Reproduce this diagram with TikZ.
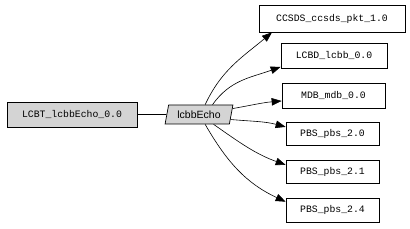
\documentclass[tikz,border=0pt]{standalone}
\usepackage{fontspec}
\newfontfamily\pktmono{Liberation Mono}
\newfontfamily\pktsans{Liberation Sans}
\usepackage{tikz}
\usetikzlibrary{calc,shapes.geometric,arrows.meta}

\begin{document}
\begin{tikzpicture}[x=1pt, y=1pt,
		pktbox/.style={draw=black, fill=white, line width=0.7pt, inner sep=0pt,
			minimum height=25pt, font=\pktmono\fontsize{9.8}{12}\selectfont},
		topbox/.style={pktbox, fill=black!17},
		procbox/.style={trapezium, trapezium left angle=72, trapezium right angle=108,
			trapezium stretches=true, draw=black, fill=black!17, line width=0.7pt,
			inner sep=0pt, minimum width=68pt, minimum height=19pt,
			font=\pktsans\fontsize{10.5}{12}\selectfont},
		dep/.style={line width=0.6pt, -{Triangle[length=10pt,width=7.5pt]}}]
	\useasboundingbox (0, 0) rectangle (410, 228);

	\node[topbox, minimum width=130pt] (lcbt) at (72, 113.5) {LCBT\_lcbbEcho\_0.0};
	\node[procbox] (echo) at (199, 113.5) {lcbbEcho};

	\node[pktbox, minimum width=146pt, minimum height=27pt] (ccsds) at (332, 209.5) {CCSDS\_ccsds\_pkt\_1.0};
	\node[pktbox, minimum width=106pt] (lcbd) at (334, 172.5) {LCBD\_lcbb\_0.0};
	\node[pktbox, minimum width=103pt] (mdb) at (333.5, 132.5) {MDB\_mdb\_0.0};
	\node[pktbox, minimum width=93pt, minimum height=23pt] (pbs20) at (332.5, 94.5) {PBS\_pbs\_2.0};
	\node[pktbox, minimum width=93pt, minimum height=23pt] (pbs21) at (332.5, 56.5) {PBS\_pbs\_2.1};
	\node[pktbox, minimum width=93pt, minimum height=24pt] (pbs24) at (332.5, 18) {PBS\_pbs\_2.4};

	\draw[line width=0.6pt] (lcbt) -- (echo);

	\draw[dep] (echo.58) to[out=65, in=220] (ccsds.193);
	\draw[dep] (echo.36) to[out=55, in=200] (lcbd.192);
	\draw[dep] (echo.10) to[out=10, in=185] (mdb.186);
	\draw[dep] (echo.-9) to[out=-5, in=165] (pbs20.172);
	\draw[dep] (echo.-34) to[out=-35, in=160] (pbs21.172);
	\draw[dep] (echo.-58) to[out=-60, in=155] (pbs24.170);
\end{tikzpicture}
\end{document}
